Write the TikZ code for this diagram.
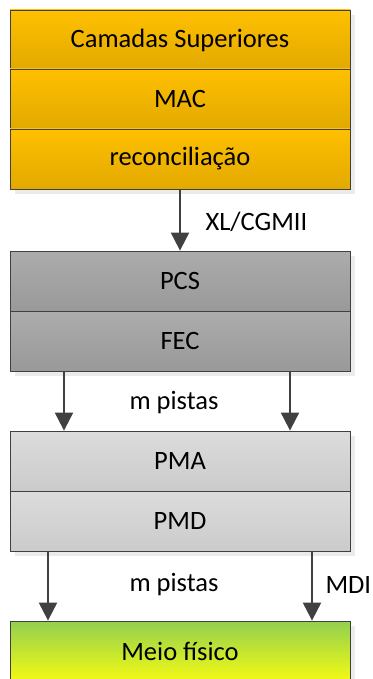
\documentclass[tikz,border=0pt]{standalone}
\usepackage{fontspec}
\setmainfont{Carlito}
\usetikzlibrary{arrows.meta,shadows}

\definecolor{orangetop}{HTML}{FFC000}
\definecolor{orangebot}{HTML}{E2A900}
\definecolor{graytop}{HTML}{ACACAC}
\definecolor{graybot}{HTML}{999999}
\definecolor{lighttop}{HTML}{DCDCDC}
\definecolor{lightbot}{HTML}{CBCBCB}
\definecolor{greentop}{HTML}{92D050}
\definecolor{greenbot}{HTML}{F4FA14}
\definecolor{edge}{HTML}{404040}

\begin{document}
\begin{tikzpicture}[x=1pt,y=-1pt,
  layer/.style={rectangle,draw=edge,line width=0.8pt,minimum width=340pt,minimum height=60pt,inner sep=0pt,
    font=\fontsize{26.5}{30}\selectfont,
    drop shadow={shadow xshift=5pt,shadow yshift=-5pt,fill=black!8,opacity=1}},
  upper/.style={layer,top color=orangetop,bottom color=orangebot},
  coding/.style={layer,top color=graytop,bottom color=graybot},
  phy/.style={layer,top color=lighttop,bottom color=lightbot},
  medium/.style={layer,top color=greentop,bottom color=greenbot},
  arrow/.style={-{Triangle[length=18pt,width=18pt]},line width=2pt,edge},
  lbl/.style={font=\fontsize{26.5}{30}\selectfont}
]
\useasboundingbox (0,0) rectangle (372,679);

% Layers
\node[upper]  (sup) at (180,40)  {Camadas Superiores};
\node[upper]  (mac) at (180,99)  {MAC};
\node[upper]  (rec) at (180,159) {reconciliação};
\node[coding] (pcs) at (180,281) {PCS};
\node[coding] (fec) at (180,341) {FEC};
\node[phy]    (pma) at (180,461) {PMA};
\node[phy]    (pmd) at (180,521) {PMD};
\node[medium] (med) at (180,651) {Meio físico};

% Lane positions
\coordinate (la) at (64,0);
\coordinate (lb) at (290,0);
\coordinate (lc) at (48,0);
\coordinate (ld) at (312,0);

% Interfaces
\draw[arrow] (rec) -- (pcs);
\draw[arrow] (fec.south -| la) -- (pma.north -| la);
\draw[arrow] (fec.south -| lb) -- (pma.north -| lb);
\draw[arrow] (pmd.south -| lc) -- (med.north -| lc);
\draw[arrow] (pmd.south -| ld) -- (med.north -| ld);

% Labels
\node[lbl,anchor=west] (xl)   at (202,222) {XL/CGMII};
\node[lbl]             (mpa)  at (174,403) {m pistas};
\node[lbl]             (mpb)  at (174,585) {m pistas};
\node[lbl,anchor=west] (mdi)  at (322,585) {MDI};
\end{tikzpicture}
\end{document}
